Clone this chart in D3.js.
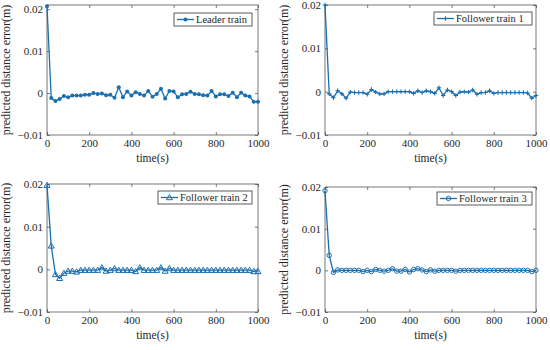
<!DOCTYPE html>
<html>
<head>
<meta charset="utf-8">
<script src="https://cdn.jsdelivr.net/npm/d3@7"></script>
<style>
  body { margin: 0; background: #fff; }
  svg text { font-family: "Liberation Serif", "DejaVu Serif", serif; }
</style>
</head>
<body>
<svg id="chart" width="550" height="350"></svg>
<script>
// --- data: one sample every 20 s
const time = d3.range(0, 1001, 20);

const leader = [0.0207, -0.0012, -0.0019, -0.0014, -0.0007, -0.0010, -0.0006, -0.0006, -0.0006, -0.0004,
  -0.0004, 0.0000, -0.0002, -0.0001, -0.0005, -0.0004, -0.0011, 0.0014, -0.0010, 0.0004,
  -0.0006, 0.0002, -0.0002, -0.0006, 0.0005, -0.0009, -0.0002, 0.0010, -0.0013, 0.0005,
  0.0004, -0.0010, -0.0003, -0.0002, 0.0003, -0.0002, -0.0003, -0.0005, -0.0006, 0.0005,
  -0.0008, -0.0003, -0.0003, -0.0007, 0.0001, -0.0010, 0.0001, -0.0006, -0.0008, -0.0021, -0.0021];

const follower1 = [0.0200, -0.0005, -0.0014, 0.0002, -0.0005, -0.0015, -0.0001, -0.0002, -0.0002, -0.0002,
  -0.0006, 0.0005, -0.0001, -0.0005, -0.0005, 0.0000, 0.0000, 0.0000, 0.0000, 0.0000,
  0.0000, -0.0004, 0.0002, -0.0002, 0.0002, 0.0000, -0.0004, 0.0009, -0.0009, 0.0004,
  0.0000, -0.0009, -0.0001, 0.0000, -0.0001, 0.0004, -0.0006, -0.0002, -0.0002, 0.0002,
  -0.0004, -0.0002, -0.0002, -0.0002, -0.0002, -0.0002, -0.0002, -0.0002, -0.0003, -0.0015, -0.0009];

const follower2 = [0.0197, 0.0055, -0.0012, -0.0021, -0.0009, -0.0004, -0.0004, -0.0006, -0.0002, -0.0002,
  -0.0002, -0.0002, -0.0002, 0.0004, -0.0004, -0.0002, 0.0002, -0.0002, -0.0002, -0.0002,
  -0.0002, -0.0005, 0.0004, -0.0002, -0.0002, -0.0002, -0.0002, 0.0004, -0.0004, 0.0002,
  -0.0002, -0.0002, -0.0002, -0.0002, -0.0002, -0.0002, -0.0002, -0.0002, -0.0002, -0.0002,
  -0.0002, -0.0002, -0.0002, -0.0002, -0.0002, -0.0002, -0.0002, -0.0002, -0.0002, -0.0005, -0.0005];

const follower3 = [0.0191, 0.0036, -0.0005, 0.0001, 0.0000, 0.0000, 0.0000, 0.0000, 0.0000, -0.0003,
  0.0000, -0.0003, 0.0002, 0.0000, -0.0002, 0.0000, 0.0004, -0.0002, -0.0002, 0.0002,
  -0.0004, 0.0002, 0.0004, 0.0001, -0.0003, 0.0001, -0.0002, 0.0000, 0.0000, 0.0000,
  0.0000, -0.0002, 0.0000, 0.0000, 0.0000, 0.0000, 0.0000, 0.0000, 0.0000, 0.0000,
  0.0000, 0.0000, 0.0000, 0.0000, 0.0000, 0.0000, 0.0000, 0.0000, 0.0000, -0.0003, 0.0000];

const xTicks = [0, 200, 400, 600, 800, 1000];
const yTicks = [-0.01, 0, 0.01, 0.02];
const yTickLabels = ["\u22120.01", "0", "0.01", "0.02"];

const blue = "#1a6fb0";
const serif = "'Liberation Serif', 'DejaVu Serif', serif";
const svg = d3.select("#chart");

// one subplot
function panel(o) {
  const x = d3.scaleLinear().domain([0, 1000]).range([o.x0, o.x1]);
  const y = d3.scaleLinear().domain([-0.01, o.ymax]).range([o.y1, o.y0]);
  const g = svg.append("g");

  g.append("rect")
    .attr("x", o.x0).attr("y", o.y0)
    .attr("width", o.x1 - o.x0).attr("height", o.y1 - o.y0)
    .attr("fill", "#fff").attr("stroke", "#555").attr("stroke-width", 0.8);

  const fmtY = d => yTickLabels[yTicks.indexOf(d)];

  g.append("g").attr("transform", `translate(0,${o.y1})`)
    .call(d3.axisBottom(x).tickValues(xTicks).tickSize(-3).tickPadding(4).tickFormat(d3.format("d")));
  g.append("g").attr("transform", `translate(0,${o.y0})`)
    .call(d3.axisTop(x).tickValues(xTicks).tickSize(-3).tickFormat(""));
  g.append("g").attr("transform", `translate(${o.x0},0)`)
    .call(d3.axisLeft(y).tickValues(yTicks).tickSize(-3).tickPadding(4).tickFormat(fmtY));
  g.append("g").attr("transform", `translate(${o.x1},0)`)
    .call(d3.axisRight(y).tickValues(yTicks).tickSize(-3).tickFormat(""));

  g.selectAll(".domain").remove();
  g.selectAll(".tick line").attr("stroke", "#555").attr("stroke-width", 0.8);
  g.selectAll(".tick text").attr("fill", "#262626")
    .attr("font-family", serif).attr("font-size", 11);

  // axis titles
  g.append("text")
    .attr("x", (o.x0 + o.x1) / 2).attr("y", o.y1 + 27)
    .attr("text-anchor", "middle").attr("fill", "#262626")
    .attr("font-family", serif).attr("font-size", 11.5).text("time(s)");
  g.append("text")
    .attr("transform", `translate(${o.x0 - 37},${(o.y0 + o.y1) / 2}) rotate(-90)`)
    .attr("text-anchor", "middle").attr("fill", "#262626")
    .attr("font-family", serif).attr("font-size", 12).text("predicted distance error(m)");

  // data line
  const pts = time.map((t, i) => [t, o.values[i]]);
  g.append("path").datum(pts)
    .attr("fill", "none").attr("stroke", blue).attr("stroke-width", 1.3)
    .attr("d", d3.line().x(d => x(d[0])).y(d => y(d[1])));

  const mk = g.append("g");
  pts.forEach(d => drawMarker(mk, o.marker, x(d[0]), y(d[1])));

  // legend
  const L = o.legend;
  g.append("rect")
    .attr("x", L.x).attr("y", L.y).attr("width", L.w).attr("height", 13)
    .attr("fill", "#fff").attr("stroke", "#333").attr("stroke-width", 0.8);
  g.append("line")
    .attr("x1", L.x + 3).attr("x2", L.x + 20)
    .attr("y1", L.y + 6.5).attr("y2", L.y + 6.5)
    .attr("stroke", blue).attr("stroke-width", 1.3);
  drawMarker(g, o.marker, L.x + 11.5, L.y + 6.5);
  g.append("text")
    .attr("x", L.x + 22).attr("y", L.y + 10.3)
    .attr("fill", "#262626").attr("font-family", serif).attr("font-size", 10.5).text(o.name);
}

function drawMarker(sel, type, cx, cy) {
  if (type === "star") {
    sel.append("circle")
      .attr("cx", cx).attr("cy", cy).attr("r", 2)
      .attr("fill", blue);
  } else if (type === "plus") {
    sel.append("path")
      .attr("transform", `translate(${cx},${cy})`)
      .attr("d", "M-2.2,0H2.2M0,-2.2V2.2")
      .attr("stroke", blue).attr("stroke-width", 1.1).attr("fill", "none");
  } else if (type === "tri") {
    sel.append("path")
      .attr("transform", `translate(${cx},${cy})`)
      .attr("d", "M0,-3L3,2.2H-3Z")
      .attr("stroke", blue).attr("stroke-width", 1).attr("fill", "none");
  } else {
    sel.append("circle")
      .attr("cx", cx).attr("cy", cy).attr("r", 2.2)
      .attr("stroke", blue).attr("stroke-width", 1).attr("fill", "none");
  }
}

panel({ x0: 47, x1: 258, y0: 5, y1: 135, ymax: 0.021, values: leader, marker: "star",
  name: "Leader train", legend: { x: 174, y: 13, w: 78 } });
panel({ x0: 325, x1: 536, y0: 5, y1: 135, ymax: 0.02, values: follower1, marker: "plus",
  name: "Follower train 1", legend: { x: 434, y: 12, w: 98 } });
panel({ x0: 47, x1: 258, y0: 184, y1: 312, ymax: 0.02, values: follower2, marker: "tri",
  name: "Follower train 2", legend: { x: 158, y: 191, w: 94 } });
panel({ x0: 325, x1: 536, y0: 187, y1: 312, ymax: 0.02, values: follower3, marker: "circle",
  name: "Follower train 3", legend: { x: 437, y: 192, w: 95 } });
</script>
</body>
</html>
